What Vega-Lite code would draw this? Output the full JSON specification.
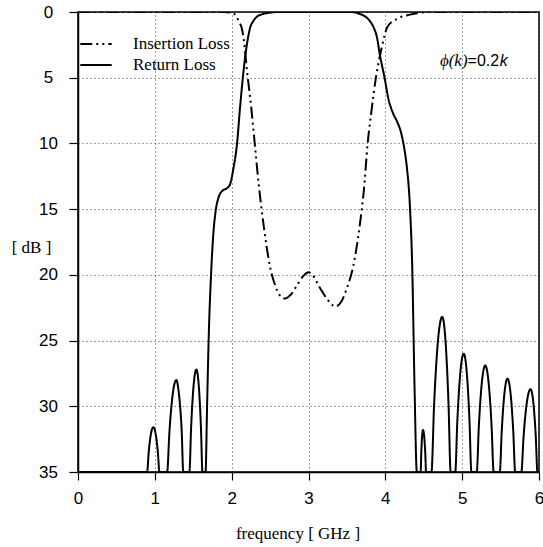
{
  "$schema": "https://vega.github.io/schema/vega-lite/v6.json",
  "width": 461,
  "height": 460,
  "autosize": "none",
  "padding": {"left": 78, "top": 12, "right": 4, "bottom": 75},
  "background": "white",
  "config": {
    "view": {"stroke": "black", "strokeWidth": 1.5},
    "axis": {
      "domainColor": "black", "domainWidth": 1.5,
      "tickColor": "black", "tickWidth": 1.2,
      "gridColor": "black", "gridDash": [1, 3], "gridOpacity": 0.75, "gridWidth": 1,
      "labelColor": "black", "labelFont": "Liberation Sans", "labelFontSize": 17,
      "titleColor": "black", "titleFont": "Liberation Serif", "titleFontSize": 17, "titleFontWeight": "normal"
    }
  },
  "datasets": {
    "curves": [
      {"series": "Insertion Loss", "f": 0.0, "dB": 0},
      {"series": "Insertion Loss", "f": 1.9, "dB": 0},
      {"series": "Insertion Loss", "f": 2.0, "dB": 0.05},
      {"series": "Insertion Loss", "f": 2.05, "dB": 0.25},
      {"series": "Insertion Loss", "f": 2.1, "dB": 0.8},
      {"series": "Insertion Loss", "f": 2.13, "dB": 1.2},
      {"series": "Insertion Loss", "f": 2.16, "dB": 2.2},
      {"series": "Insertion Loss", "f": 2.2, "dB": 4.5},
      {"series": "Insertion Loss", "f": 2.25, "dB": 7.0},
      {"series": "Insertion Loss", "f": 2.3, "dB": 10.0},
      {"series": "Insertion Loss", "f": 2.35, "dB": 13.0},
      {"series": "Insertion Loss", "f": 2.42, "dB": 16.4},
      {"series": "Insertion Loss", "f": 2.5, "dB": 19.4},
      {"series": "Insertion Loss", "f": 2.56, "dB": 20.7},
      {"series": "Insertion Loss", "f": 2.62, "dB": 21.5},
      {"series": "Insertion Loss", "f": 2.69, "dB": 21.8},
      {"series": "Insertion Loss", "f": 2.77, "dB": 21.5},
      {"series": "Insertion Loss", "f": 2.85, "dB": 20.8},
      {"series": "Insertion Loss", "f": 2.93, "dB": 20.1},
      {"series": "Insertion Loss", "f": 3.0, "dB": 19.8},
      {"series": "Insertion Loss", "f": 3.05, "dB": 20.0},
      {"series": "Insertion Loss", "f": 3.15, "dB": 21.0},
      {"series": "Insertion Loss", "f": 3.25, "dB": 21.9},
      {"series": "Insertion Loss", "f": 3.35, "dB": 22.4},
      {"series": "Insertion Loss", "f": 3.43, "dB": 22.0},
      {"series": "Insertion Loss", "f": 3.5, "dB": 21.0},
      {"series": "Insertion Loss", "f": 3.58, "dB": 19.4},
      {"series": "Insertion Loss", "f": 3.67, "dB": 16.1},
      {"series": "Insertion Loss", "f": 3.72, "dB": 13.6},
      {"series": "Insertion Loss", "f": 3.77, "dB": 10.0},
      {"series": "Insertion Loss", "f": 3.82, "dB": 7.5},
      {"series": "Insertion Loss", "f": 3.88, "dB": 4.9},
      {"series": "Insertion Loss", "f": 3.95, "dB": 2.8},
      {"series": "Insertion Loss", "f": 4.03, "dB": 1.1},
      {"series": "Insertion Loss", "f": 4.16, "dB": 0.5},
      {"series": "Insertion Loss", "f": 4.32, "dB": 0.2},
      {"series": "Insertion Loss", "f": 4.45, "dB": 0.05},
      {"series": "Insertion Loss", "f": 4.6, "dB": 0},
      {"series": "Insertion Loss", "f": 6.0, "dB": 0},

      {"series": "Return Loss", "f": 0.0, "dB": 35},
      {"series": "Return Loss", "f": 0.9, "dB": 35},
      {"series": "Return Loss", "f": 0.92, "dB": 33.51},
      {"series": "Return Loss", "f": 0.94, "dB": 32.45},
      {"series": "Return Loss", "f": 0.96, "dB": 31.81},
      {"series": "Return Loss", "f": 0.98, "dB": 31.6},
      {"series": "Return Loss", "f": 1.0, "dB": 31.81},
      {"series": "Return Loss", "f": 1.02, "dB": 32.45},
      {"series": "Return Loss", "f": 1.04, "dB": 33.51},
      {"series": "Return Loss", "f": 1.06, "dB": 35},
      {"series": "Return Loss", "f": 1.16, "dB": 35},
      {"series": "Return Loss", "f": 1.19, "dB": 31.94},
      {"series": "Return Loss", "f": 1.22, "dB": 29.75},
      {"series": "Return Loss", "f": 1.25, "dB": 28.44},
      {"series": "Return Loss", "f": 1.28, "dB": 28.0},
      {"series": "Return Loss", "f": 1.3, "dB": 28.44},
      {"series": "Return Loss", "f": 1.325, "dB": 29.75},
      {"series": "Return Loss", "f": 1.35, "dB": 31.94},
      {"series": "Return Loss", "f": 1.37, "dB": 35},
      {"series": "Return Loss", "f": 1.45, "dB": 35},
      {"series": "Return Loss", "f": 1.4725, "dB": 31.59},
      {"series": "Return Loss", "f": 1.495, "dB": 29.15},
      {"series": "Return Loss", "f": 1.5175, "dB": 27.69},
      {"series": "Return Loss", "f": 1.54, "dB": 27.2},
      {"series": "Return Loss", "f": 1.56, "dB": 27.69},
      {"series": "Return Loss", "f": 1.58, "dB": 29.15},
      {"series": "Return Loss", "f": 1.6, "dB": 31.59},
      {"series": "Return Loss", "f": 1.62, "dB": 35},
      {"series": "Return Loss", "f": 1.66, "dB": 35},
      {"series": "Return Loss", "f": 1.68, "dB": 30},
      {"series": "Return Loss", "f": 1.7, "dB": 25},
      {"series": "Return Loss", "f": 1.73, "dB": 20.2},
      {"series": "Return Loss", "f": 1.76, "dB": 17},
      {"series": "Return Loss", "f": 1.79, "dB": 15.2},
      {"series": "Return Loss", "f": 1.83, "dB": 14.1},
      {"series": "Return Loss", "f": 1.88, "dB": 13.6},
      {"series": "Return Loss", "f": 1.94, "dB": 13.4},
      {"series": "Return Loss", "f": 1.98, "dB": 13.1},
      {"series": "Return Loss", "f": 2.02, "dB": 12.0},
      {"series": "Return Loss", "f": 2.07, "dB": 10.0},
      {"series": "Return Loss", "f": 2.11, "dB": 7.2},
      {"series": "Return Loss", "f": 2.16, "dB": 4.2},
      {"series": "Return Loss", "f": 2.2, "dB": 2.4},
      {"series": "Return Loss", "f": 2.24, "dB": 1.2},
      {"series": "Return Loss", "f": 2.28, "dB": 0.7},
      {"series": "Return Loss", "f": 2.33, "dB": 0.35},
      {"series": "Return Loss", "f": 2.41, "dB": 0.15},
      {"series": "Return Loss", "f": 2.5, "dB": 0.05},
      {"series": "Return Loss", "f": 2.6, "dB": 0},
      {"series": "Return Loss", "f": 3.55, "dB": 0},
      {"series": "Return Loss", "f": 3.67, "dB": 0.15},
      {"series": "Return Loss", "f": 3.74, "dB": 0.35},
      {"series": "Return Loss", "f": 3.8, "dB": 0.7},
      {"series": "Return Loss", "f": 3.85, "dB": 1.2},
      {"series": "Return Loss", "f": 3.89, "dB": 1.9},
      {"series": "Return Loss", "f": 3.93, "dB": 3.3},
      {"series": "Return Loss", "f": 3.99, "dB": 5.0},
      {"series": "Return Loss", "f": 4.04, "dB": 6.6},
      {"series": "Return Loss", "f": 4.1, "dB": 7.7},
      {"series": "Return Loss", "f": 4.15, "dB": 8.3},
      {"series": "Return Loss", "f": 4.21, "dB": 9.3},
      {"series": "Return Loss", "f": 4.25, "dB": 10.5},
      {"series": "Return Loss", "f": 4.28, "dB": 11.8},
      {"series": "Return Loss", "f": 4.32, "dB": 14.8},
      {"series": "Return Loss", "f": 4.35, "dB": 19.4},
      {"series": "Return Loss", "f": 4.38, "dB": 28.5},
      {"series": "Return Loss", "f": 4.41, "dB": 35},
      {"series": "Return Loss", "f": 4.46, "dB": 35},
      {"series": "Return Loss", "f": 4.4675, "dB": 33.6},
      {"series": "Return Loss", "f": 4.475, "dB": 32.6},
      {"series": "Return Loss", "f": 4.4825, "dB": 32.0},
      {"series": "Return Loss", "f": 4.49, "dB": 31.8},
      {"series": "Return Loss", "f": 4.5, "dB": 32.0},
      {"series": "Return Loss", "f": 4.51, "dB": 32.6},
      {"series": "Return Loss", "f": 4.52, "dB": 33.6},
      {"series": "Return Loss", "f": 4.53, "dB": 35},
      {"series": "Return Loss", "f": 4.6, "dB": 35},
      {"series": "Return Loss", "f": 4.635, "dB": 29.84},
      {"series": "Return Loss", "f": 4.67, "dB": 26.15},
      {"series": "Return Loss", "f": 4.705, "dB": 23.94},
      {"series": "Return Loss", "f": 4.74, "dB": 23.2},
      {"series": "Return Loss", "f": 4.7675, "dB": 23.94},
      {"series": "Return Loss", "f": 4.795, "dB": 26.15},
      {"series": "Return Loss", "f": 4.8225, "dB": 29.84},
      {"series": "Return Loss", "f": 4.85, "dB": 35},
      {"series": "Return Loss", "f": 4.91, "dB": 35},
      {"series": "Return Loss", "f": 4.9375, "dB": 31.06},
      {"series": "Return Loss", "f": 4.965, "dB": 28.25},
      {"series": "Return Loss", "f": 4.9925, "dB": 26.56},
      {"series": "Return Loss", "f": 5.02, "dB": 26.0},
      {"series": "Return Loss", "f": 5.045, "dB": 26.56},
      {"series": "Return Loss", "f": 5.07, "dB": 28.25},
      {"series": "Return Loss", "f": 5.095, "dB": 31.06},
      {"series": "Return Loss", "f": 5.12, "dB": 35},
      {"series": "Return Loss", "f": 5.19, "dB": 35},
      {"series": "Return Loss", "f": 5.2175, "dB": 31.46},
      {"series": "Return Loss", "f": 5.245, "dB": 28.92},
      {"series": "Return Loss", "f": 5.2725, "dB": 27.41},
      {"series": "Return Loss", "f": 5.3, "dB": 26.9},
      {"series": "Return Loss", "f": 5.3275, "dB": 27.41},
      {"series": "Return Loss", "f": 5.355, "dB": 28.92},
      {"series": "Return Loss", "f": 5.3825, "dB": 31.46},
      {"series": "Return Loss", "f": 5.41, "dB": 35},
      {"series": "Return Loss", "f": 5.49, "dB": 35},
      {"series": "Return Loss", "f": 5.515, "dB": 31.89},
      {"series": "Return Loss", "f": 5.54, "dB": 29.67},
      {"series": "Return Loss", "f": 5.565, "dB": 28.34},
      {"series": "Return Loss", "f": 5.59, "dB": 27.9},
      {"series": "Return Loss", "f": 5.615, "dB": 28.34},
      {"series": "Return Loss", "f": 5.64, "dB": 29.67},
      {"series": "Return Loss", "f": 5.665, "dB": 31.89},
      {"series": "Return Loss", "f": 5.69, "dB": 35},
      {"series": "Return Loss", "f": 5.77, "dB": 35},
      {"series": "Return Loss", "f": 5.8, "dB": 32.24},
      {"series": "Return Loss", "f": 5.83, "dB": 30.27},
      {"series": "Return Loss", "f": 5.86, "dB": 29.09},
      {"series": "Return Loss", "f": 5.89, "dB": 28.7},
      {"series": "Return Loss", "f": 5.9125, "dB": 29.09},
      {"series": "Return Loss", "f": 5.935, "dB": 30.27},
      {"series": "Return Loss", "f": 5.9575, "dB": 32.24},
      {"series": "Return Loss", "f": 5.98, "dB": 35},
      {"series": "Return Loss", "f": 6.0, "dB": 35}
    ]
  },
  "layer": [
    {
      "data": {"name": "curves"},
      "mark": {"type": "line", "color": "black", "strokeWidth": 2, "interpolate": "monotone", "clip": true},
      "encoding": {
        "x": {
          "field": "f", "type": "quantitative",
          "scale": {"domain": [0, 6], "nice": false, "zero": false},
          "axis": {
            "values": [0, 1, 2, 3, 4, 5, 6], "format": "d",
            "title": "frequency [ GHz ]", "titleX": 219.5, "titleY": 61, "titleBaseline": "middle", "titleAlign": "center", "titleAnchor": null,
            "tickSize": 8, "labelPadding": 10, "labelFlush": false, "grid": true
          }
        },
        "y": {
          "field": "dB", "type": "quantitative",
          "scale": {"domain": [0, 35], "reverse": true, "nice": false, "zero": false},
          "axis": {
            "values": [0, 5, 10, 15, 20, 25, 30, 35], "format": "d",
            "title": "[ dB ]", "titleAngle": 0, "titleX": -47, "titleY": 235, "titleAlign": "center", "titleBaseline": "middle", "titleAnchor": null,
            "tickSize": 9, "labelPadding": 21, "labelAlign": "center", "labelBaseline": "middle", "labelFlush": false, "grid": true
          }
        },
        "strokeDash": {
          "field": "series", "type": "nominal",
          "scale": {"domain": ["Insertion Loss", "Return Loss"], "range": [[12, 4, 2, 4, 2, 4], [1, 0]]},
          "legend": {
            "orient": "none", "legendX": 7, "legendY": 21, "title": null,
            "symbolType": "M-1.57,0H1.57", "symbolSize": 400, "symbolStrokeColor": "black", "symbolStrokeWidth": 2,
            "labelFont": "Liberation Serif", "labelFontSize": 17, "labelColor": "black", "labelOffset": 26,
            "rowPadding": 2, "padding": 0
          }
        }
      }
    },
    {
      "data": {"values": [{"f": 4.71, "dB": 3.73, "t": "ϕ(k)"}]},
      "mark": {"type": "text", "font": "Liberation Serif", "fontStyle": "italic", "fontSize": 17, "align": "left", "baseline": "middle", "color": "black"},
      "encoding": {"x": {"field": "f", "type": "quantitative"}, "y": {"field": "dB", "type": "quantitative"}, "text": {"field": "t"}}
    },
    {
      "data": {"values": [{"f": 5.07, "dB": 3.73, "t": "=0.2"}]},
      "mark": {"type": "text", "font": "Liberation Sans", "fontSize": 16, "align": "left", "baseline": "middle", "color": "black"},
      "encoding": {"x": {"field": "f", "type": "quantitative"}, "y": {"field": "dB", "type": "quantitative"}, "text": {"field": "t"}}
    },
    {
      "data": {"values": [{"f": 5.49, "dB": 3.73, "t": "k"}]},
      "mark": {"type": "text", "font": "Liberation Sans", "fontStyle": "italic", "fontSize": 16, "align": "left", "baseline": "middle", "color": "black"},
      "encoding": {"x": {"field": "f", "type": "quantitative"}, "y": {"field": "dB", "type": "quantitative"}, "text": {"field": "t"}}
    }
  ]
}
